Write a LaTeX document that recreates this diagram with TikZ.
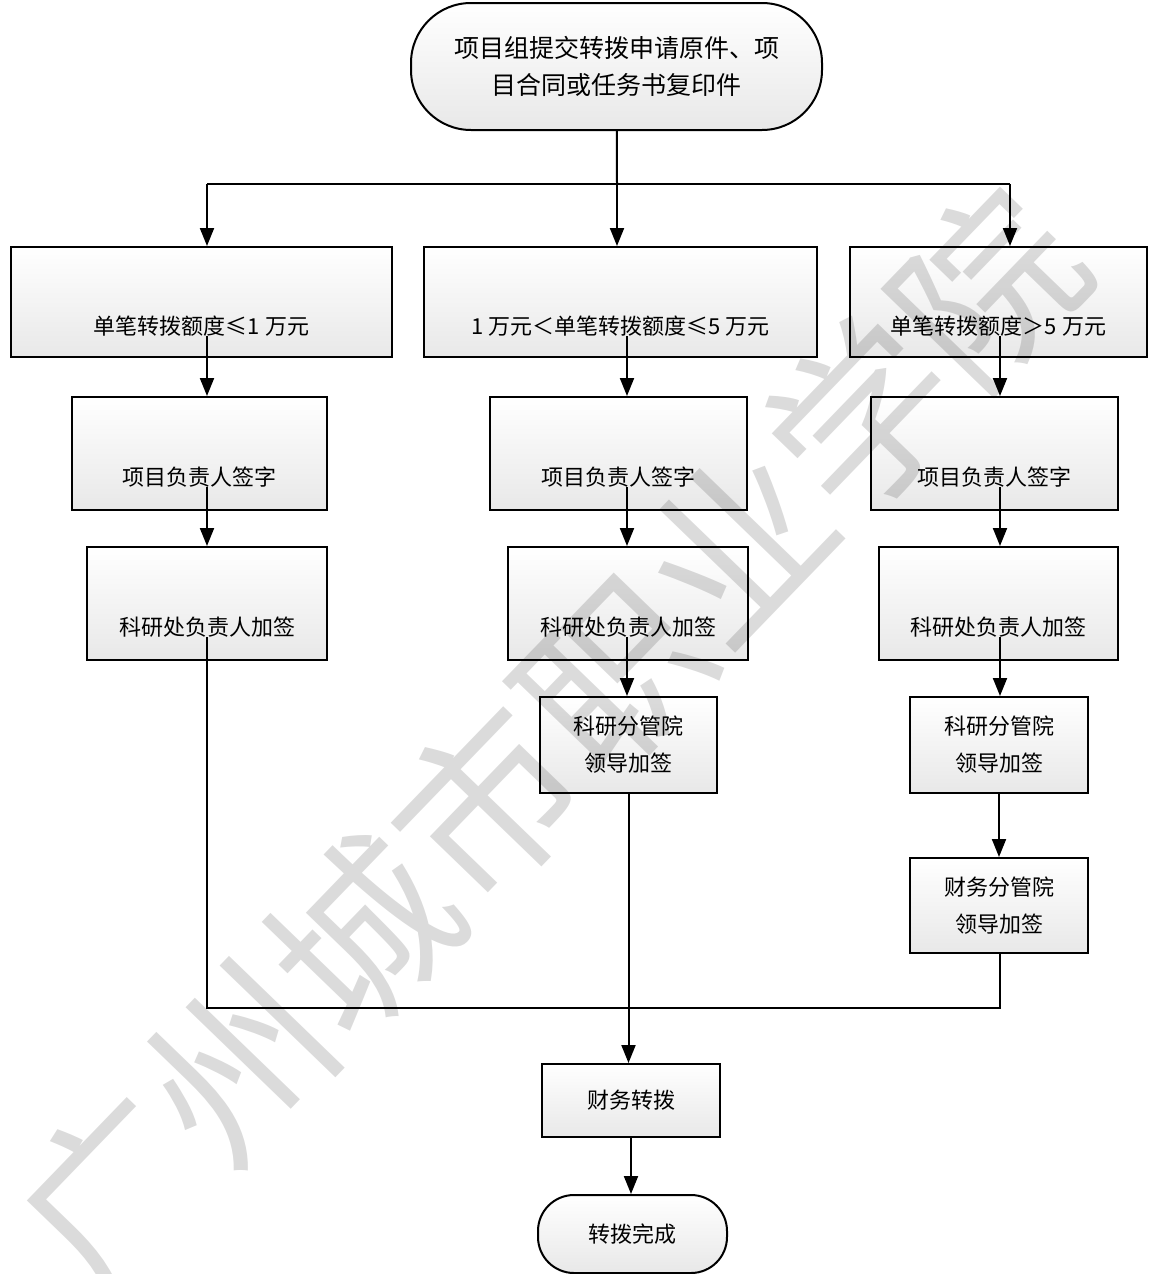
\documentclass[tikz,border=0pt]{standalone}
\usepackage{fontspec}
\setmainfont{Noto Sans CJK SC}
\usetikzlibrary{arrows.meta,calc}

\tikzset{
  flowbox/.style={draw, line width=1pt, top color=white, bottom color=gray!18,
    inner sep=2pt, align=center, font=\fontsize{11}{18.5}\selectfont},
  lowtext/.style={text height=32pt, text depth=0pt},
  terminal/.style={flowbox, rounded corners=#1},
  arr/.style={line width=1pt, -{Triangle[width=7pt,length=9pt]}},
  conn/.style={line width=1pt}
}

\begin{document}
\begin{tikzpicture}[x=0.5pt, y=-0.5pt]
            \useasboundingbox (0,0) rectangle (1151,1274);
            % start
            \node[terminal=30pt, minimum width=205.5pt, minimum height=63.5pt, font=\fontsize{12.5}{18.5}\selectfont] (start) at (616.5,66.5) {项目组提交转拨申请原件、项\\目合同或任务书复印件};
            % amount limits
            \node[flowbox, lowtext, minimum width=190.5pt, minimum height=55pt] (a1) at (201.5,302) {单笔转拨额度≤1 万元};
            \node[flowbox, lowtext, minimum width=196.5pt, minimum height=55pt] (b1) at (620.5,302) {1 万元＜单笔转拨额度≤5 万元};
            \node[flowbox, lowtext, minimum width=148.5pt, minimum height=55pt] (c1) at (998.5,302) {单笔转拨额度＞5 万元};
            % signatures
            \node[flowbox, lowtext, minimum width=127.5pt, minimum height=56.5pt] (a2) at (199.5,453.5) {项目负责人签字};
            \node[flowbox, lowtext, minimum width=128.5pt, minimum height=56.5pt] (b2) at (618.5,453.5) {项目负责人签字};
            \node[flowbox, lowtext, minimum width=123.5pt, minimum height=56.5pt] (c2) at (994.5,453.5) {项目负责人签字};
            \node[flowbox, lowtext, minimum width=120pt, minimum height=56.5pt] (a3) at (207,603.5) {科研处负责人加签};
            \node[flowbox, lowtext, minimum width=120pt, minimum height=56.5pt] (b3) at (628,603.5) {科研处负责人加签};
            \node[flowbox, lowtext, minimum width=119.5pt, minimum height=56.5pt] (c3) at (998.5,603.5) {科研处负责人加签};
            \node[flowbox, minimum width=88.5pt, minimum height=48pt] (b4) at (628.5,745) {科研分管院\\领导加签};
            \node[flowbox, minimum width=89pt, minimum height=48pt] (c4) at (999,745) {科研分管院\\领导加签};
            \node[flowbox, minimum width=89pt, minimum height=47.5pt] (c5) at (999,905.5) {财务分管院\\领导加签};
            % finish
            \node[flowbox, minimum width=89pt, minimum height=36.5pt] (fin) at (631,1100.5) {财务转拨};
            \node[terminal=18pt, minimum width=94.5pt, minimum height=39pt] (end) at (632.5,1234) {转拨完成};

            \coordinate (fork) at (617,184);
            \coordinate (forkL) at (207,184);
            \coordinate (forkR) at (1010,184);
            \coordinate (colA) at (207,0);
            \coordinate (colB) at (627,0);
            \coordinate (colC) at (1000,0);
            \coordinate (mergeL) at (207,1008);
            \coordinate (mergeR) at (1000,1008);

            \draw[conn] (start) -- (fork);
            \draw[conn] (forkL) -- (forkR);
            \draw[arr] (forkL) -- (forkL |- a1.north);
            \draw[arr] (fork) -- (fork |- b1.north);
            \draw[arr] (forkR) -- (forkR |- c1.north);
            % left
            \draw[arr] ($(a1.south -| colA)+(0,-22)$) -- (colA |- a2.north);
            \draw[arr] ($(a2.south -| colA)+(0,-24)$) -- (colA |- a3.north);
            \draw[conn] ($(a3.south -| colA)+(0,-24)$) -- (mergeL) -- (mergeR) -- (c5.south -| mergeR);
            % middle
            \draw[arr] ($(b1.south -| colB)+(0,-22)$) -- (colB |- b2.north);
            \draw[arr] ($(b2.south -| colB)+(0,-24)$) -- (colB |- b3.north);
            \draw[arr] ($(b3.south -| colB)+(0,-24)$) -- (colB |- b4.north);
            \draw[arr] (b4.south) -- (b4.south |- fin.north);
            % right
            \draw[arr] ($(c1.south -| colC)+(0,-22)$) -- (colC |- c2.north);
            \draw[arr] ($(c2.south -| colC)+(0,-24)$) -- (colC |- c3.north);
            \draw[arr] ($(c3.south -| colC)+(0,-24)$) -- (colC |- c4.north);
            \draw[arr] (c4) -- (c5);
            \draw[arr] (fin.south) -- (fin.south |- end.north);

            % \node[draw] at (550,740) {};
            \node[rotate=46, text=black, text opacity=0.14, font=\fontsize{90}{90}\selectfont, inner sep=0pt] (watermark) at (550,740) {广州城市职业学院};
        \end{tikzpicture}
\end{document}
